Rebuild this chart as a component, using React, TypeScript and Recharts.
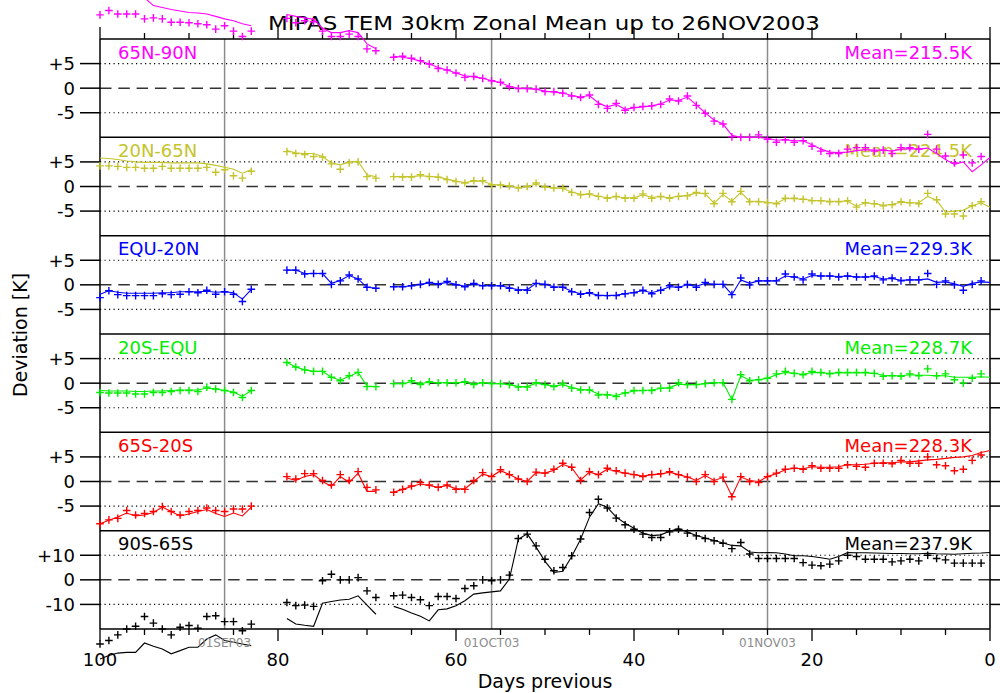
import React from "react";
import { ComposedChart, Line, XAxis, YAxis, ReferenceLine } from "recharts";

const FONT = "'DejaVu Sans', sans-serif";

// days before 26NOV2003 that have data (gaps at 82-80 and 68)
const days = [
  100, 99, 98, 97, 96, 95, 94, 93, 92, 91, 90, 89, 88, 87, 86, 85, 84, 83,
  79, 78, 77, 76, 75, 74, 73, 72, 71, 70, 69,
  67, 66, 65, 64, 63, 62, 61, 60, 59, 58, 57, 56, 55, 54, 53, 52, 51,
  50, 49, 48, 47, 46, 45, 44, 43, 42, 41, 40, 39, 38, 37, 36, 35, 34, 33, 32, 31,
  30, 29, 28, 27, 26, 25, 24, 23, 22, 21, 20, 19, 18, 17, 16, 15, 14, 13, 12, 11,
  10, 9, 8, 7, 6, 5, 4, 3, 2, 1, 0,
];

const dayTicks = [0, 5, 10, 15, 20, 25, 30, 35, 40, 45, 50, 55, 60, 65, 70, 75, 80, 85, 90, 95, 100];

const monthLines = [
  { day: 86, label: "01SEP03" },
  { day: 56, label: "01OCT03" },
  { day: 25, label: "01NOV03" },
];

// 65N-90N
const n65to90Plus = [
  14.9, 15.8, 15.1, 15.1, 15.1, 14.1, 14.3, 14.1, 13.4, 13.4, 13.3, 13.1, 12.9, 12.0, 12.7, 11.6, 10.5, 11.6,
  14.2, 13.3, 13.7, 13.5, 11.6, 10.5, 10.5, 11.0, 10.5, 8.0, 7.6,
  6.3, 6.5, 6.1, 5.6, 4.9, 4.0, 3.7, 3.1, 2.2, 2.4, 2.0, 1.5, 1.2, 0.3, -0.1, -0.1, -0.2,
  -0.7, -0.7, -1.0, -1.6, -1.9, -1.4, -3.3, -4.1, -3.1, -4.5, -3.9, -3.7, -3.6, -3.3, -2.2, -2.6, -1.6, -3.5, -5.1, -6.7,
  -7.3, -9.9, -10.0, -10.0, -9.5, -10.4, -11.0, -10.5, -11.0, -10.7, -11.8, -12.8, -13.3, -13.3, -12.4, -12.1, -12.1, -12.8, -12.6, -13.3,
  -12.1, -12.1, -12.4, -9.4, -12.4, -13.8, -15.2, -13.6, -15.2, -13.9, null,
];
const n65to90Line = [
  20.0, 19.8, 19.5, 19.2, 18.8, 18.4, 16.8, 16.4, 16.0, 15.7, 15.4, 15.3, 15.1, 14.6, 14.1, 13.7, 13.1, 12.7,
  15.0, 14.6, 14.3, 14.0, 12.2, 11.3, 11.3, 11.7, 11.3, 9.0, 8.0,
  6.5, 6.3, 6.0, 5.5, 4.9, 4.2, 3.7, 3.1, 2.5, 2.3, 2.0, 1.5, 1.1, 0.4, 0.0, -0.1, -0.2,
  -0.6, -0.8, -1.0, -1.5, -1.8, -1.5, -3.0, -3.8, -3.3, -4.3, -4.0, -3.8, -3.6, -3.2, -2.4, -2.5, -1.8, -3.4, -5.0, -6.5,
  -7.3, -9.6, -10.0, -10.0, -10.0, -10.2, -10.6, -10.5, -10.7, -10.7, -11.5, -12.4, -13.0, -13.1, -13.0, -12.7, -12.5, -12.6, -12.6, -12.8,
  -12.4, -12.3, -12.4, -12.2, -13.3, -14.5, -15.5, -15.0, -17.0, -15.6, -14.1,
];

// 20N-65N
const n20to65Plus = [
  4.2, 4.2, 4.1, 3.9, 3.9, 3.7, 3.7, 4.1, 3.7, 3.7, 3.7, 3.7, 3.9, 2.9, 3.4, 2.2, 1.7, 3.1,
  7.1, 6.7, 6.5, 6.1, 6.0, 4.6, 3.5, 4.8, 5.0, 2.0, 1.7,
  2.0, 1.9, 1.9, 2.4, 2.0, 1.9, 1.4, 1.0, 0.7, 1.2, 1.2, 0.3, 0.3, 0.1, -0.3, 0.0, 0.7,
  -0.1, -0.3, -0.3, -1.2, -1.7, -1.5, -2.0, -2.4, -2.0, -2.4, -2.4, -1.5, -2.4, -2.0, -2.4, -2.0, -1.9, -1.2, -1.4, -3.5,
  -1.4, -3.1, -1.0, -3.1, -3.1, -3.3, -3.5, -2.4, -2.4, -2.6, -2.9, -2.9, -3.1, -3.1, -2.9, -4.2, -3.3, -3.5, -3.9, -3.7,
  -3.1, -3.3, -3.5, -1.4, -2.7, -5.6, -5.6, -6.0, -3.9, -3.1, null,
];
const n20to65Line = [
  5.8, 5.7, 5.5, 5.2, 5.0, 4.9, 4.9, 4.9, 4.8, 4.8, 4.8, 4.8, 4.6, 4.3, 3.9, 3.5, 2.7, 3.4,
  7.3, 6.8, 6.7, 6.7, 6.1, 4.8, 4.4, 5.0, 5.1, 2.4, 2.0,
  2.0, 2.0, 2.0, 2.2, 2.1, 1.9, 1.5, 1.1, 0.8, 1.1, 1.1, 0.4, 0.3, 0.1, -0.2, 0.0, 0.5,
  -0.1, -0.3, -0.4, -1.1, -1.6, -1.6, -2.0, -2.3, -2.1, -2.3, -2.3, -1.7, -2.2, -2.1, -2.3, -2.0, -1.8, -1.3, -1.5, -3.4,
  -1.6, -3.0, -1.2, -3.0, -3.0, -3.2, -3.4, -2.5, -2.5, -2.6, -2.8, -2.9, -3.0, -3.0, -3.0, -4.0, -3.3, -3.5, -3.8, -3.6,
  -3.2, -3.3, -3.3, -2.0, -2.8, -5.2, -5.0, -4.8, -3.9, -3.3, -4.2,
];

// EQU-20N
const eqTo20nPlus = [
  -2.6, -1.2, -2.0, -2.2, -2.2, -2.2, -2.2, -1.8, -2.0, -1.9, -1.4, -1.6, -1.1, -1.9, -1.4, -1.9, -3.4, -0.9,
  3.0, 3.0, 2.2, 2.3, 2.3, 0.1, 0.8, 2.0, 1.2, -0.5, -0.7,
  -0.4, -0.4, -0.2, 0.1, 0.5, 0.1, 0.7, 0.0, -0.4, 0.3, -0.2, -0.2, -0.2, -0.7, -1.1, -1.1, 0.3,
  0.1, -0.5, -0.5, -1.4, -1.9, -1.6, -2.2, -2.2, -2.2, -1.8, -1.6, -1.1, -1.8, -1.1, -0.2, -0.5, 0.1, -0.5, 0.5, 0.1,
  0.1, -2.0, 1.4, 0.0, 0.8, 0.8, 0.8, 2.2, 1.6, 1.0, 2.2, 1.8, 1.8, 1.6, 1.8, 1.6, 1.6, 1.8, 1.0, 1.4,
  0.8, 1.0, 1.0, 2.3, 0.1, 0.8, 0.0, -1.1, 0.1, 0.8, null,
];
const eqTo20nLine = [
  -1.9, -1.2, -1.5, -1.7, -1.7, -1.7, -1.7, -1.6, -1.6, -1.4, -1.4, -1.4, -1.3, -1.5, -1.4, -1.6, -2.9, -0.9,
  3.0, 3.0, 2.3, 2.3, 2.3, 0.3, 0.9, 1.9, 1.2, -0.5, -0.7,
  -0.4, -0.4, -0.2, 0.1, 0.4, 0.2, 0.5, 0.1, -0.3, 0.2, -0.2, -0.2, -0.2, -0.6, -1.0, -1.0, 0.3,
  0.1, -0.4, -0.5, -1.3, -1.8, -1.7, -2.1, -2.2, -2.1, -1.8, -1.5, -1.2, -1.6, -1.1, -0.4, -0.5, 0.0, -0.3, 0.3, 0.1,
  0.1, -2.0, 1.0, 0.3, 0.8, 0.8, 0.8, 1.8, 1.6, 1.2, 1.9, 1.8, 1.8, 1.7, 1.8, 1.6, 1.6, 1.7, 1.2, 1.3,
  0.9, 1.0, 1.0, 1.2, 0.5, 0.6, 0.2, -0.3, 0.3, 0.6, 0.5,
];

// 20S-EQU
const s20toEqPlus = [
  -1.9, -2.0, -2.0, -2.0, -2.2, -2.2, -1.9, -1.9, -1.7, -1.5, -1.5, -1.7, -0.8, -1.2, -1.5, -1.9, -2.9, -1.5,
  4.2, 3.3, 2.7, 2.4, 2.4, 1.2, 0.5, 1.5, 2.2, -0.7, -0.7,
  -0.1, -0.1, 0.5, -0.3, 0.3, 0.1, 0.1, 0.1, 0.3, -0.3, 0.1, -0.1, -0.1, -0.3, -0.8, -0.8, 0.1,
  -0.3, -0.7, -0.1, -1.0, -1.4, -1.4, -2.4, -2.4, -2.7, -2.0, -1.5, -1.5, -1.5, -1.0, -1.0, 0.1, -0.3, -0.3, -0.1, 0.1,
  0.1, -3.3, 1.7, 0.5, 0.7, 1.0, 1.9, 2.4, 2.0, 1.7, 2.4, 2.2, 1.9, 2.2, 2.2, 2.2, 2.2, 2.0, 1.4, 1.5,
  1.4, 1.9, 1.5, 2.9, 1.5, 1.9, 0.7, 0.0, 1.0, 1.9, null,
];
const s20toEqLine = [
  -1.5, -1.6, -1.6, -1.6, -1.7, -1.7, -1.6, -1.6, -1.5, -1.4, -1.4, -1.4, -1.0, -1.2, -1.5, -1.8, -2.7, -1.5,
  4.2, 3.3, 2.7, 2.4, 2.4, 1.2, 0.6, 1.4, 2.2, -0.6, -0.7,
  -0.1, -0.1, 0.3, -0.1, 0.2, 0.1, 0.1, 0.1, 0.2, -0.2, 0.1, -0.1, -0.1, -0.3, -0.7, -0.7, 0.0,
  -0.3, -0.6, -0.3, -0.9, -1.3, -1.4, -2.2, -2.3, -2.5, -2.0, -1.6, -1.5, -1.4, -1.1, -0.9, -0.2, -0.3, -0.3, -0.1, 0.1,
  0.1, -3.3, 1.5, 0.6, 0.7, 1.0, 1.7, 2.2, 2.0, 1.8, 2.2, 2.1, 2.0, 2.1, 2.1, 2.1, 2.1, 2.0, 1.6, 1.5,
  1.5, 1.7, 1.6, 1.6, 1.5, 1.5, 1.2, 1.2, 1.2, 1.3, 1.2,
];

// 65S-20S
const s65to20Plus = [
  -8.6, -7.8, -7.5, -5.9, -6.8, -6.5, -6.1, -5.1, -6.1, -6.8, -6.1, -5.9, -5.4, -5.9, -6.1, -5.6, -5.6, -5.0,
  1.0, 0.5, 1.6, 1.6, 0.2, -0.7, 1.4, 0.2, 2.0, -1.2, -1.7,
  -2.2, -1.6, -0.9, -0.2, -0.7, -1.2, -0.7, -1.6, -1.6, 0.2, 1.8, 1.0, 2.4, 1.4, 0.5, 0.0, 1.9,
  1.7, 2.5, 3.7, 2.9, 0.2, 2.0, 1.4, 2.7, 2.2, 1.7, 1.4, 1.0, 1.4, 1.6, 2.0, 1.4, 0.9, 0.0, 1.4, 0.0,
  0.9, -3.1, 1.0, 0.0, -0.2, 1.0, 1.7, 2.5, 2.7, 2.5, 3.2, 2.7, 2.7, 2.7, 3.4, 3.1, 2.9, 3.7, 3.7, 3.6,
  4.3, 3.7, 3.7, 5.0, 3.4, 3.2, 2.2, 2.5, 4.3, 5.4, null,
];
const s65to20Line = [
  -8.6, -7.9, -7.2, -6.4, -7.0, -6.8, -6.3, -5.2, -6.1, -7.0, -6.6, -6.1, -5.7, -6.5, -7.1, -6.4, -7.0, -5.2,
  0.7, 0.2, 1.0, 1.4, 0.0, -1.0, 1.0, -0.2, 1.7, -2.0, -2.0,
  -2.2, -1.6, -1.0, -0.5, -0.8, -1.2, -0.8, -1.5, -1.5, 0.0, 1.5, 1.0, 2.2, 1.4, 0.5, 0.0, 1.8,
  1.7, 2.3, 3.5, 2.8, 0.3, 1.9, 1.4, 2.5, 2.1, 1.7, 1.4, 1.1, 1.4, 1.5, 1.9, 1.4, 0.9, 0.2, 1.2, 0.2,
  0.8, -3.0, 0.9, 0.2, 0.0, 1.0, 1.6, 2.4, 2.7, 2.6, 3.0, 2.9, 2.9, 3.0, 3.4, 3.4, 3.5, 3.7, 3.8, 3.8,
  4.0, 4.0, 4.2, 4.4, 4.5, 4.7, 4.9, 5.0, 5.3, 5.9, 6.3,
];

// 90S-65S
const s90to65Plus = [
  -26.1, -24.7, -22.4, -20.0, -18.9, -14.9, -17.6, -20.0, -22.4, -19.3, -18.6, -19.7, -14.9, -14.6, -17.0, -17.0, -20.7, -18.0,
  -9.2, -10.5, -10.3, -10.8, -0.4, 2.3, 0.0, 0.0, 0.9, -4.5, -7.2,
  -6.5, -6.2, -7.2, -8.1, -10.5, -6.8, -6.8, -7.6, -3.5, -2.4, 0.0, -0.4, 0.0, 1.9, 16.8, 18.6, 13.8,
  8.4, 3.7, 5.0, 9.8, 16.6, 27.4, 32.8, 29.2, 25.1, 22.4, 20.6, 18.6, 17.2, 17.2, 19.5, 20.6, 19.0, 17.9, 16.8, 15.9,
  14.9, 12.7, 15.2, 10.5, 8.7, 8.7, 8.7, 8.7, 8.7, 7.0, 6.0, 5.7, 6.4, 7.7, 10.0, 9.5, 8.4, 8.4, 8.4, 7.3,
  7.7, 8.4, 7.7, 10.0, 8.7, 8.1, 6.8, 6.8, 6.8, 6.8, null,
];
const s90to65Line = [
  -32.2, -30.8, -29.8, -29.5, -29.5, -25.7, -27.0, -28.1, -30.1, -28.8, -27.4, -27.4, -24.1, -22.4, -24.7, -25.4, -26.1, -26.8,
  -15.7, -18.0, -18.5, -18.9, -9.5, -8.8, -8.2, -7.9, -6.5, -10.3, -14.0,
  -10.8, -12.0, -13.5, -14.8, -16.7, -12.2, -11.8, -10.5, -8.5, -5.8, -5.3, -4.9, -4.5, 0.3, 16.5, 18.7, 13.3,
  7.5, 3.0, 3.5, 9.5, 16.5, 25.5, 31.0, 29.5, 25.5, 23.0, 21.0, 19.0, 18.0, 18.3, 19.8, 20.8, 19.5, 18.0, 17.0, 16.0,
  15.0, 14.0, 13.8, 11.3, 11.0, 11.1, 11.0, 10.5, 9.8, 9.8, 9.5, 9.0, 8.4, 9.5, 11.1, 11.0, 11.0, 10.9, 10.8, 10.7,
  10.7, 10.6, 10.6, 10.8, 10.6, 10.5, 10.4, 10.6, 10.8, 10.9, 11.1,
];

const bands = [
  { id: "b1", name: "65N-90N", mean: "Mean=215.5K", color: "#ff00ff", span: 10, plus: n65to90Plus, line: n65to90Line },
  { id: "b2", name: "20N-65N", mean: "Mean=224.5K", color: "#c4c42c", span: 10, plus: n20to65Plus, line: n20to65Line },
  { id: "b3", name: "EQU-20N", mean: "Mean=229.3K", color: "#0000ff", span: 10, plus: eqTo20nPlus, line: eqTo20nLine },
  { id: "b4", name: "20S-EQU", mean: "Mean=228.7K", color: "#00ee00", span: 10, plus: s20toEqPlus, line: s20toEqLine },
  { id: "b5", name: "65S-20S", mean: "Mean=228.3K", color: "#ff0000", span: 10, plus: s65to20Plus, line: s65to20Line },
  { id: "b6", name: "90S-65S", mean: "Mean=237.9K", color: "#000000", span: 20, plus: s90to65Plus, line: s90to65Line },
];

// layout: the plot area is the whole svg height; the frame sits inside it
const W = 1000;
const H = 693;
const LEFT = 100;
const RIGHT = 10;
const AXIS_Y = 629;
const FRAME_TOP = 39;
const NB = bands.length;
const PANEL_H = (AXIS_Y - FRAME_TOP) / NB;
// "frame" axis counts panels upward from the day axis
const frameDomain = [-(H - AXIS_Y) / PANEL_H, AXIS_Y / PANEL_H];
const px = (len: number) => len / PANEL_H;

// one row per day, with an empty row in each gap so the traces break
const rows: any[] = [];
days.forEach((d, i) => {
  if (i > 0 && days[i - 1] - d > 1) rows.push({ day: days[i - 1] - 1 });
  const row: any = { day: d };
  bands.forEach((b) => {
    row[b.id + "p"] = b.plus[i];
    row[b.id + "l"] = b.line[i];
  });
  rows.push(row);
});

// each panel gets its own y scale: +-span fills its strip of the frame
function bandDomain(k: number, span: number) {
  const ppu = PANEL_H / (2 * span);
  const mid = FRAME_TOP + PANEL_H * (k + 0.5);
  return [-(H - mid) / ppu, mid / ppu];
}

// deviation ticks of every panel, placed on the frame axis
const devTicks: { f: number; text: string }[] = [];
bands.forEach((b, k) => {
  [b.span / 2, 0, -b.span / 2].forEach((v) => {
    devTicks.push({ f: NB - k - 0.5 + v / (2 * b.span), text: v > 0 ? `+${v}` : `${v}` });
  });
});

function plusDot(color: string) {
  return (p: any) => {
    const { cx, cy, index, value } = p;
    if (cx == null || cy == null || value == null) return <g key={`n${index}`} />;
    return (
      <path
        key={`p${index}`}
        d={`M${cx - 3.8},${cy}h7.6M${cx},${cy - 3.8}v7.6`}
        stroke={color}
        strokeWidth={1.4}
        fill="none"
      />
    );
  };
}

export default function App() {
  const ink = { stroke: "#000", strokeWidth: 1.5 };
  const dotted = { stroke: "#000", strokeWidth: 1.2, strokeDasharray: "1.2 3.3" };
  return (
    <div style={{ position: "absolute", left: 0, top: 0, width: W, height: H, background: "#fff", fontFamily: FONT }}>
      <ComposedChart
        width={W}
        height={H}
        data={rows}
        margin={{ top: 0, right: RIGHT, bottom: 0, left: LEFT }}
        style={{ fontFamily: FONT }}
      >
        <XAxis type="number" dataKey="day" domain={[0, 100]} reversed hide />
        <YAxis yAxisId="frame" type="number" hide width={0} domain={frameDomain} allowDataOverflow />
        {bands.map((b, k) => (
          <YAxis key={b.id} yAxisId={b.id} type="number" hide width={0} domain={bandDomain(k, b.span)} allowDataOverflow />
        ))}

        {bands.map((b) => (
          <ReferenceLine key={b.id + "hi"} yAxisId={b.id} y={b.span / 2} {...dotted} />
        ))}
        {bands.map((b) => (
          <ReferenceLine key={b.id + "lo"} yAxisId={b.id} y={-b.span / 2} {...dotted} />
        ))}
        {bands.map((b) => (
          <ReferenceLine key={b.id + "z"} yAxisId={b.id} y={0} stroke="#333" strokeWidth={1.5} strokeDasharray="11.5 6.8" />
        ))}

        {monthLines.map((m) => (
          <ReferenceLine
            key={m.label}
            yAxisId="frame"
            segment={[{ x: m.day, y: 0 }, { x: m.day, y: NB }]}
            stroke="#8c8c8c"
            strokeWidth={1.5}
            label={{ value: m.label, position: "bottom", offset: 9, fill: "#8c8c8c", fontSize: 12 }}
          />
        ))}

        {/* panel frame, day axis at the bottom and its twin on top */}
        {[0, 1, 2, 3, 4, 5, 6].map((f) => (
          <ReferenceLine key={"f" + f} yAxisId="frame" y={f} {...ink} />
        ))}
        <ReferenceLine yAxisId="frame" segment={[{ x: 100, y: 0 }, { x: 100, y: NB }]} {...ink} />
        <ReferenceLine yAxisId="frame" segment={[{ x: 0, y: 0 }, { x: 0, y: NB }]} {...ink} />
        {dayTicks.map((d) => (
          <ReferenceLine
            key={"t" + d}
            yAxisId="frame"
            segment={[{ x: d, y: NB }, { x: d, y: NB + px(d % 20 === 0 ? 12 : 6) }]}
            stroke="#000"
            strokeWidth={1.3}
          />
        ))}
        {dayTicks.map((d) => (
          <ReferenceLine
            key={"b" + d}
            yAxisId="frame"
            segment={[{ x: d, y: 0 }, { x: d, y: -px(d % 20 === 0 ? 12 : 6) }]}
            stroke="#000"
            strokeWidth={1.3}
            label={d % 20 === 0 ? { value: String(d), position: "bottom", offset: 12, fill: "#000", fontSize: 18 } : undefined}
          />
        ))}

        {/* deviation ticks: outward stubs on both sides of the frame, labels on the left */}
        {devTicks.map((t) => (
          <ReferenceLine
            key={"yl" + t.f}
            yAxisId="frame"
            ifOverflow="visible"
            segment={[{ x: 100 + 20 / 8.9, y: t.f }, { x: 100, y: t.f }]}
            {...ink}
            label={{ value: t.text, position: "left", offset: 5, fill: "#000", fontSize: 18 }}
          />
        ))}
        {devTicks.map((t) => (
          <ReferenceLine
            key={"yr" + t.f}
            yAxisId="frame"
            ifOverflow="visible"
            segment={[{ x: 0, y: t.f }, { x: -RIGHT / 8.9, y: t.f }]}
            {...ink}
          />
        ))}

        {bands.map((b) => (
          <Line
            key={b.id + "l"}
            yAxisId={b.id}
            dataKey={b.id + "l"}
            stroke={b.color}
            strokeWidth={1.1}
            dot={false}
            activeDot={false}
            isAnimationActive={false}
          />
        ))}
        {bands.map((b) => (
          <Line
            key={b.id + "p"}
            yAxisId={b.id}
            dataKey={b.id + "p"}
            stroke="none"
            strokeWidth={0}
            dot={plusDot(b.color)}
            activeDot={false}
            isAnimationActive={false}
          />
        ))}

        <text x={544} y={30} textAnchor="middle" fontSize={20} fontFamily={FONT} textLength={552} lengthAdjust="spacingAndGlyphs" fill="#000">
          MIPAS TEM 30km Zonal Mean up to 26NOV2003
        </text>
        <text transform="translate(27 335) rotate(-90)" textAnchor="middle" fontSize={19} fontFamily={FONT} fill="#000">
          Deviation [K]
        </text>
        <text x={545} y={688} textAnchor="middle" fontSize={19} fontFamily={FONT} fill="#000">
          Days previous
        </text>
        {bands.map((b, k) => (
          <text key={b.id + "n"} x={118} y={FRAME_TOP + k * PANEL_H + 19.5} fontSize={18} fontFamily={FONT} fill={b.color}>
            {b.name}
          </text>
        ))}
        {bands.map((b, k) => (
          <text key={b.id + "m"} x={972} y={FRAME_TOP + k * PANEL_H + 19.5} textAnchor="end" fontSize={18} fontFamily={FONT} fill={b.color}>
            {b.mean}
          </text>
        ))}
      </ComposedChart>
    </div>
  );
}
